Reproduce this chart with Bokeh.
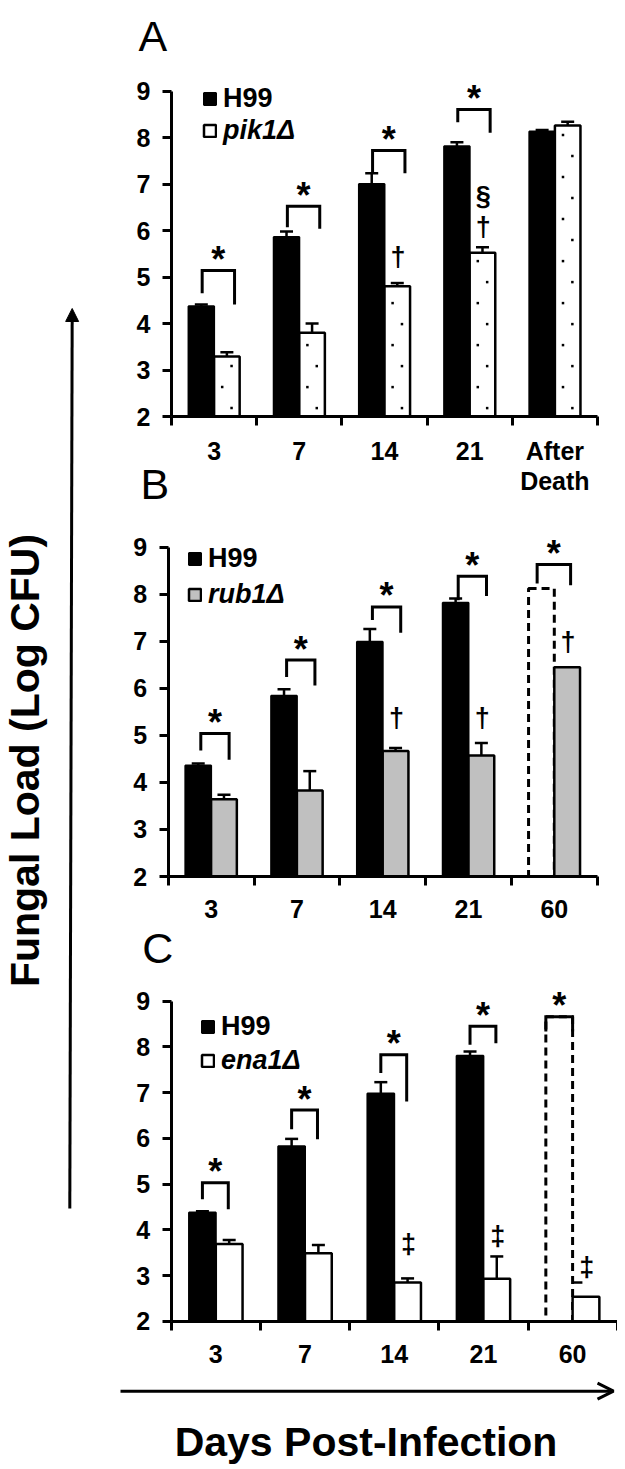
import numpy as np
from bokeh.plotting import figure
from bokeh.models import (Range1d, FixedTicker, Label, Whisker, TeeHead, ColumnDataSource,
                          Legend, LegendItem, Arrow, NormalHead, OpenHead)
from bokeh.layouts import row, column
from bokeh.embed import file_html
from bokeh.resources import INLINE
from bokeh.core.properties import value

FONT = "Liberation Sans"

# ---------------- Panel A : H99 vs pik1Δ ----------------
days_A = ["3", "7", "14", "21", "After\nDeath"]
h99_A = [4.37, 5.86, 7.00, 7.81, 8.13]
h99_err_A = [4.41, 5.98, 7.23, 7.90, 8.16]
h99_dead_A = [0, 0, 0, 0, 0]
pik1_A = [3.29, 3.80, 4.80, 5.52, 8.26]
pik1_err_A = [3.38, 4.00, 4.87, 5.64, 8.34]
sig_top_A = [5.14, 6.52, 7.72, 8.60]
sig_left_A = [4.65, 6.07, 7.25, 8.33]
sig_right_A = [4.41, 6.04, 7.23, 8.10]
mark_day_A = [2, 3, 3]
mark_sym_A = ["†", "†", "§"]
mark_y_A = [5.43, 6.07, 6.75]

# ---------------- Panel B : H99 vs rub1Δ ----------------
days_B = ["3", "7", "14", "21", "60"]
h99_B = [4.36, 5.84, 6.99, 7.82, 8.12]
h99_err_B = [4.40, 5.98, 7.26, 7.91, None]
h99_dead_B = [0, 0, 0, 0, 1]
rub1_B = [3.64, 3.83, 4.67, 4.57, 6.45]
rub1_err_B = [3.74, 4.24, 4.73, 4.84, None]
sig_top_B = [5.04, 6.60, 7.73, 8.38, 8.63]
sig_left_B = [4.68, 6.24, 7.45, 7.87, 8.23]
sig_right_B = [4.48, 6.06, 7.18, 7.96, 8.19]
mark_day_B = [2, 3, 4]
mark_sym_B = ["†", "†", "†"]
mark_y_B = [5.36, 5.36, 6.99]

# ---------------- Panel C : H99 vs ena1Δ ----------------
days_C = ["3", "7", "14", "21", "60"]
h99_C = [4.38, 5.83, 6.98, 7.81, 8.66]
h99_err_C = [4.41, 5.99, 7.23, 7.90, None]
h99_dead_C = [0, 0, 0, 0, 1]
ena1_C = [3.69, 3.49, 2.85, 2.93, 2.54]
ena1_err_C = [3.78, 3.67, 2.94, 3.42, 2.85]
sig_top_C = [5.03, 6.62, 7.83, 8.45, 8.66]
sig_left_C = [4.67, 6.20, 7.43, 8.05, 8.34]
sig_right_C = [4.45, 5.98, 6.81, 8.08, 8.34]
mark_day_C = [2, 3, 4]
mark_sym_C = ["‡", "‡", "‡"]
mark_y_C = [3.69, 3.87, 3.18]

y_ticks = [2, 3, 4, 5, 6, 7, 8, 9]


def frame_ranges(c_left, c_top, w, h, px_x0, px_x5, px_y2, px_y9, n):
    ux = (px_x5 - px_x0) / n
    uy = (px_y2 - px_y9) / 7.0
    x_lo = (c_left - px_x0) / ux
    y_hi = 2 + (px_y2 - c_top) / uy
    return Range1d(x_lo, x_lo + w / ux), Range1d(y_hi - h / uy, y_hi), uy


def build_panel(days, h99, h99_err, h99_dead, mut, mut_err, sig_top, sig_left, sig_right,
                mark_day, mark_sym, mark_y, mut_label, mut_fill, dotted,
                geom, x_standoff, br_off, dead_br_off, leg_h99, leg_mut, half_cap=()):
    n = len(days)
    w, h = geom[2], geom[3]
    xr, yr, uy = frame_ranges(*geom, n)
    p = figure(width=w, height=h, x_range=xr, y_range=yr,
               output_backend="svg", toolbar_location=None, min_border=0)
    p.xgrid.visible = False
    p.ygrid.visible = False
    p.outline_line_color = None

    xa = p.xaxis[0]
    ya = p.yaxis[0]
    xa.fixed_location = 2
    ya.fixed_location = 0
    xa.bounds = (0, n)
    ya.bounds = (2, 9)
    xa.ticker = FixedTicker(ticks=[i + 0.5 for i in range(n)], minor_ticks=list(range(n + 1)))
    xa.major_label_overrides = {i + 0.5: d for i, d in enumerate(days)}
    xa.major_tick_in = 0
    xa.major_tick_out = 0
    xa.minor_tick_in = 0
    xa.minor_tick_out = 9
    xa.minor_tick_line_width = 3
    xa.minor_tick_line_color = "black"
    xa.major_label_standoff = x_standoff
    xa.major_label_text_line_height = 1.1
    ya.ticker = FixedTicker(ticks=y_ticks)
    ya.major_tick_in = 0
    ya.major_tick_out = 9
    ya.major_tick_line_width = 3
    ya.minor_tick_line_color = None
    ya.major_label_standoff = 12
    for ax in (xa, ya):
        ax.axis_line_width = 3
        ax.axis_line_color = "black"
        ax.major_tick_line_color = "black"
        ax.major_label_text_font = FONT
        ax.major_label_text_font_size = "25px"
        ax.major_label_text_font_style = "bold"
        ax.major_label_text_color = "black"

    alive = [i for i in range(n) if not h99_dead[i]]
    dead = [i for i in range(n) if h99_dead[i]]
    r_h99 = p.vbar(x=[i + 0.35 for i in alive], top=[h99[i] for i in alive], bottom=2, width=0.3,
                   fill_color="black", line_color="black", line_width=2)
    if dead:
        p.vbar(x=[i + 0.35 for i in dead], top=[h99[i] for i in dead], bottom=2, width=0.3,
               fill_color="white", fill_alpha=0, line_color="black", line_width=3,
               line_dash="8 5")
    r_mut = p.vbar(x=[i + 0.65 for i in range(n)], top=mut, bottom=2, width=0.3,
                   fill_color=mut_fill, line_color="black", line_width=2.5)

    if dotted:
        # sparse dot texture inside the dotted bars (about one dot every 21 px)
        step = 21.0 / uy
        dx, dy = [], []
        for i in range(n):
            k = 0
            yy = 2 + 0.4 * step
            while yy < mut[i] - 0.3 * step:
                dx.append(i + 0.65 + (0.055 if k % 2 == 0 else -0.055))
                dy.append(yy)
                yy += step
                k += 1
        p.scatter(x=dx, y=dy, marker="square", size=2.5, fill_color="black", line_color=None)

    # error bars (upper only)
    base, lower, upper = [], [], []
    for i in range(n):
        if h99_err[i] is not None and not h99_dead[i]:
            base.append(i + 0.35); lower.append(h99[i]); upper.append(h99_err[i])
        if mut_err[i] is not None and i not in half_cap:
            base.append(i + 0.65); lower.append(mut[i]); upper.append(mut_err[i])
    wsrc = ColumnDataSource(dict(base=base, lower=lower, upper=upper))
    p.add_layout(Whisker(source=wsrc, base="base", lower="lower", upper="upper", dimension="height",
                         line_width=2.5, line_color="black", lower_head=None,
                         upper_head=TeeHead(size=13, line_width=2.5, line_color="black")))
    for i in half_cap:
        p.segment(x0=[i + 0.5], x1=[i + 0.61], y0=[mut_err[i]], y1=[mut_err[i]],
                  line_width=2.5, line_color="black")

    # significance brackets and stars
    nb = len(sig_top)
    lx = [i + (dead_br_off[0] if h99_dead[i] else br_off[0]) for i in range(nb)]
    rx = [i + (dead_br_off[1] if h99_dead[i] else br_off[1]) for i in range(nb)]
    p.multi_line(xs=[[lx[i], lx[i], rx[i], rx[i]] for i in range(nb)],
                 ys=[[sig_left[i], sig_top[i], sig_top[i], sig_right[i]] for i in range(nb)],
                 line_width=3, line_color="black", line_join="miter")
    p.text(x=[(lx[i] + rx[i]) / 2 for i in range(nb)], y=sig_top, text=["*"] * nb,
           text_align="center", text_baseline="alphabetic", y_offset=-11,
           text_font=value(FONT), text_font_size="36px", text_font_style="bold", text_color="black")
    p.text(x=[d + 0.66 for d in mark_day], y=mark_y, text=mark_sym,
           text_align="center", text_baseline="middle",
           text_font=value(FONT), text_font_size="27px", text_font_style="bold", text_color="black")

    common = dict(glyph_width=15, glyph_height=15, label_standoff=6, padding=0, margin=0, spacing=0,
                  border_line_color=None, background_fill_alpha=0, label_height=30,
                  label_text_font=FONT, label_text_font_size="27px", label_text_color="black")
    p.add_layout(Legend(items=[LegendItem(label=value("H99"), renderers=[r_h99])],
                        location=leg_h99, label_text_font_style="bold", **common))
    p.add_layout(Legend(items=[LegendItem(label=value(mut_label), renderers=[r_mut])],
                        location=leg_mut, label_text_font_style="bold italic", **common))
    return p


def letter(p, x, y, t):
    p.add_layout(Label(x=x, y=y, text=t, text_font=FONT, text_font_size="43px",
                       text_line_height=1.0, text_color="black", text_baseline="middle"))


# geometry: canvas left, canvas top, width, height, px of x=0, px of x=n, px of y=2, px of y=9
pA = build_panel(days_A, h99_A, h99_err_A, h99_dead_A, pik1_A, pik1_err_A,
                 sig_top_A, sig_left_A, sig_right_A, mark_day_A, mark_sym_A, mark_y_A,
                 "pik1Δ", "white", True,
                 (108, 0, 509, 508, 171, 597, 416, 90.5), 11,
                 (0.36, 0.74), (0.30, 0.69), (94, 394), (94, 362))
letter(pA, -0.387, 10.19, "A")
letter(pA, -0.364, 0.54, "B")

pB = build_panel(days_B, h99_B, h99_err_B, h99_dead_B, rub1_B, rub1_err_B,
                 sig_top_B, sig_left_B, sig_right_B, mark_day_B, mark_sym_B, mark_y_B,
                 "rub1Δ", "#c0c0c0", False,
                 (108, 508, 509, 416, 167.7, 596.7, 876, 546.7), 14,
                 (0.38, 0.71), (0.30, 0.69), (79, 350), (79, 314))

pC = build_panel(days_C, h99_C, h99_err_C, h99_dead_C, ena1_C, ena1_err_C,
                 sig_top_C, sig_left_C, sig_right_C, mark_day_C, mark_sym_C, mark_y_C,
                 "ena1Δ", "white", False,
                 (108, 924, 509, 449, 170.7, 616.7, 1320.9, 1000.7), 15,
                 (0.35, 0.64), (0.20, 0.50), (92, 331), (92, 297), half_cap=(4,))
letter(pC, -0.325, 10.17, "C")


def blank(w, h):
    f = figure(width=w, height=h, x_range=Range1d(0, w), y_range=Range1d(0, h),
               output_backend="svg", toolbar_location=None, x_axis_location=None,
               y_axis_location=None, min_border=0)
    f.grid.visible = False
    f.outline_line_color = None
    return f


pL = blank(108, 1469)
pL.add_layout(Arrow(x_start=69.3, y_start=261, x_end=71.7, y_end=1161, line_width=3,
                    line_color="black",
                    end=NormalHead(size=13, fill_color="black", line_color="black", line_width=1)))
pL.add_layout(Label(x=24, y=709, text="Fungal Load (Log CFU)", angle=np.pi / 2,
                    text_align="center", text_baseline="middle", text_font=FONT,
                    text_font_size="41px", text_font_style="bold", text_color="black"))

pX = blank(509, 96)
pX.add_layout(Arrow(x_start=12, y_start=78.3, x_end=505, y_end=78.3, line_width=3,
                    line_color="black", end=OpenHead(size=16, line_width=3, line_color="black")))
pX.add_layout(Label(x=257.5, y=27.5, text="Days Post-Infection", text_align="center",
                    text_baseline="middle", text_font=FONT, text_font_size="41px",
                    text_font_style="bold", text_color="black"))

layout = row(pL, column(pA, pB, pC, pX))
open("out.html", "w").write(file_html(layout, INLINE))
